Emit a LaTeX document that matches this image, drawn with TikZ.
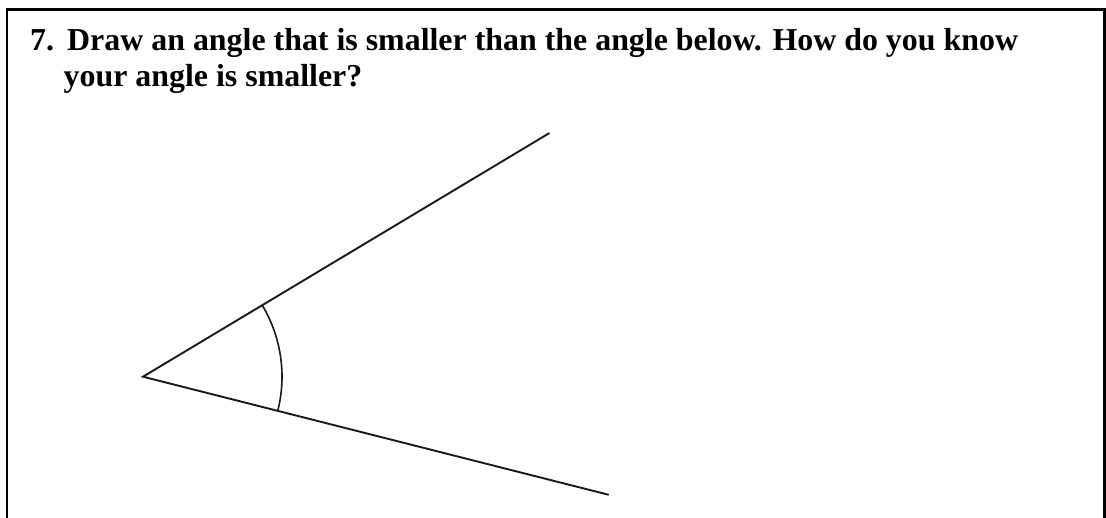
\documentclass[tikz,border=0pt]{standalone}
\usepackage{fontspec}
\setmainfont{Liberation Serif}
\usetikzlibrary{positioning}
\tikzset{
  frameline/.style={draw=black, line width=2.5bp},
  rayline/.style={draw=black!90, line width=1.9bp, line cap=round},
  arcline/.style={draw=black!90, line width=1.6bp},
  qtext/.style={inner sep=0pt, anchor=base west, font=\fontsize{31.9bp}{36bp}\selectfont\bfseries}
}

\begin{document}
\begin{tikzpicture}[x=1bp, y=1bp]

  %% page size
  \useasboundingbox (0,0) rectangle (1106,518);

  %% open frame (no bottom edge)
  \coordinate (frameBL) at (7,0);
  \coordinate (frameTL) at (7,508.5);
  \coordinate (frameTR) at (1104.6,508.5);
  \coordinate (frameBR) at (1104.6,0);
  \draw[frameline] (frameBL) -- (frameTL) -- (frameTR) -- (frameBR);

  %% question text
  \node[qtext] (qnum) at (30,467.3) {7.};
  \node[qtext] (qline1) at (67,467.3) {Draw an angle that is smaller than the angle below. How do you know};
  \node[qtext] (qline2) at (63.5,431.5) {your angle is smaller?};

  %% the angle
  \coordinate (vertex) at (143,141.3);
  \coordinate (upperend) at (549,384.7);
  \coordinate (lowerend) at (608.3,23.3);
  \draw[rayline] (upperend) -- (vertex) -- (lowerend);
  \draw[arcline] ([shift={(31:139bp)}]vertex) arc[start angle=31, end angle=-14, radius=139bp];

\end{tikzpicture}
\end{document}
